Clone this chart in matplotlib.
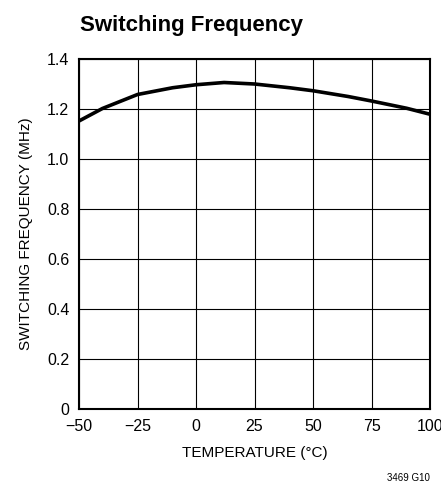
import matplotlib.pyplot as plt
from matplotlib import font_manager

temp = [-50, -40, -25, -10, 0, 12, 25, 40, 50, 65, 75, 90, 100]
freq = [1.152, 1.202, 1.258, 1.285, 1.297, 1.306, 1.300, 1.285, 1.273, 1.250, 1.232, 1.203, 1.179]
xticks = [-50, -25, 0, 25, 50, 75, 100]
yticks = [0, 0.2, 0.4, 0.6, 0.8, 1.0, 1.2, 1.4]

names = {f.name for f in font_manager.fontManager.ttflist}
fam = 'Liberation Sans Narrow' if 'Liberation Sans Narrow' in names else 'Liberation Sans'
plt.rcParams['font.family'] = [fam, 'DejaVu Sans']

fig = plt.figure(figsize=(4.41, 4.91), dpi=100)
ax = fig.add_axes([79 / 441, 1 - 409 / 491, 351 / 441, 350 / 491])

ax.plot(temp, freq, color='black', lw=2.6, solid_capstyle='butt', solid_joinstyle='round')
ax.set_xlim(-50, 100)
ax.set_ylim(0, 1.4)
ax.set_xticks(xticks)
ax.set_xticklabels(['\u221250', '\u221225', '0', '25', '50', '75', '100'])
ax.set_yticks(yticks)
ax.set_yticklabels(['0', '0.2', '0.4', '0.6', '0.8', '1.0', '1.2', '1.4'])
ax.grid(True, color='black', lw=0.8)
ax.tick_params(length=0, labelsize=11.5, pad=7)
for s in ax.spines.values():
    s.set_linewidth(1.5)

ax.set_xlabel('TEMPERATURE (\u00b0C)', fontsize=11, labelpad=9)
ax.set_ylabel('SWITCHING FREQUENCY (MHz)', fontsize=11, labelpad=10)
fig.text(80 / 441, 1 - 25 / 491, 'Switching Frequency', fontsize=16, fontweight='bold',
         va='center', ha='left')
fig.text(430 / 441, 1 - 478 / 491, '3469 G10', fontsize=7, ha='right', va='center')

fig.savefig('out.png', dpi=100)
